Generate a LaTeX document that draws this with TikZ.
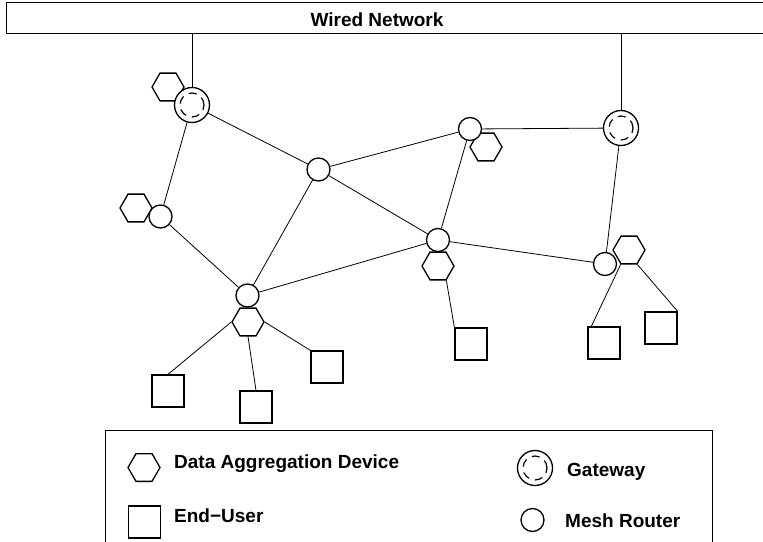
\documentclass[tikz,border=0pt]{standalone}
\usepackage{fontspec}
\setmainfont{Liberation Sans}
\usetikzlibrary{shapes.geometric}
\begin{document}
\begin{tikzpicture}[x=1pt,y=-1pt,
  hexa/.style={regular polygon, regular polygon sides=6, minimum size=32pt, inner sep=0pt, draw, line width=1.3pt, fill=white},
  router/.style={circle, minimum size=23pt, inner sep=0pt, draw, line width=1.3pt, fill=white},
  gateway/.style={circle, minimum size=35pt, inner sep=0pt, draw, line width=1.3pt, fill=white,
    path picture={\draw[line width=1.2pt, dash pattern=on 8pt off 6pt] (path picture bounding box.center) circle (12pt);}},
  user/.style={rectangle, minimum size=32pt, inner sep=0pt, draw, line width=1.3pt, fill=white},
  link/.style={line width=0.8pt},
  lbl/.style={font=\fontsize{19}{21}\selectfont\bfseries, inner sep=0pt, anchor=base west},
  frame/.style={draw, line width=1.2pt, inner sep=0pt, anchor=north west},
]
\useasboundingbox (0,0) rectangle (763,541);
% wired network bar
\node[frame, minimum width=764pt, minimum height=31pt] (net) at (6,2) {};
\node[lbl, anchor=base] (nettext) at (377,26) {Wired Network};
% legend frame
\node[frame, minimum width=607pt, minimum height=130pt] (legend) at (105,430) {};

% data aggregation devices
\node[hexa] (H1) at (168,87) {};
\node[hexa] (HR1) at (136,208) {};
\node[hexa] (H3) at (486,147) {};
\node[hexa] (H4) at (438,266) {};
\node[hexa] (H5) at (629,250) {};
\node[hexa] (H6) at (248,322) {};

% gateways and mesh routers
\node[gateway] (G1) at (192,105) {};
\node[gateway] (G2) at (621,128) {};
\node[router] (R1) at (160.5,216.5) {};
\node[router] (R2) at (318.5,169.5) {};
\node[router] (R3) at (470,129) {};
\node[router] (R4) at (438,240) {};
\node[router] (R5) at (605,264) {};
\node[router] (R6) at (247.5,295.5) {};

% end users
\node[user] (EU1) at (168,391) {};
\node[user] (EU2) at (256,407) {};
\node[user] (EU3) at (327,367) {};
\node[user] (EU4) at (471,344) {};
\node[user] (EU5) at (604,343) {};
\node[user] (EU6) at (661,328) {};

% connectors
\draw[link] (G1.north) -- (G1.north |- net.south);
\draw[link] (G2.north) -- (G2.north |- net.south);
\draw[link] (G1) -- (R1);
\draw[link] (G1) -- (R2);
\draw[link] (R1) -- (R6);
\draw[link] (R2) -- (R6);
\draw[link] (R2) -- (R3);
\draw[link] (R2) -- (R4);
\draw[link] (R3) -- (R4);
\draw[link] (R3) -- (G2);
\draw[link] (G2) -- (R5);
\draw[link] (R4) -- (R5);
\draw[link] (R6) -- (R4);
\draw[link] (H6.180) -- (EU1.north);
\draw[link] (H6.south) -- (EU2.north);
\draw[link] (H6.0) -- (EU3.north west);
\draw[link] (H4.300) -- (EU4.north west);
\draw[link] (H5.240) -- ([xshift=4pt]EU5.north west);
\draw[link] (H5.300) -- (EU6.north east);

% legend
\node[hexa] (LH) at (144,467.5) {};
\node[user] (LS) at (144.5,522) {};
\node[gateway] (LG) at (535,468) {};
\node[router] (LR) at (532.5,520) {};
\node[lbl] (LHt) at (174,468) {Data Aggregation Device};
\node[lbl] (LSt) at (174,522.5) {End−User};
\node[lbl] (LGt) at (567,476.5) {Gateway};
\node[lbl] (LRt) at (565,527.5) {Mesh Router};
\end{tikzpicture}
\end{document}
